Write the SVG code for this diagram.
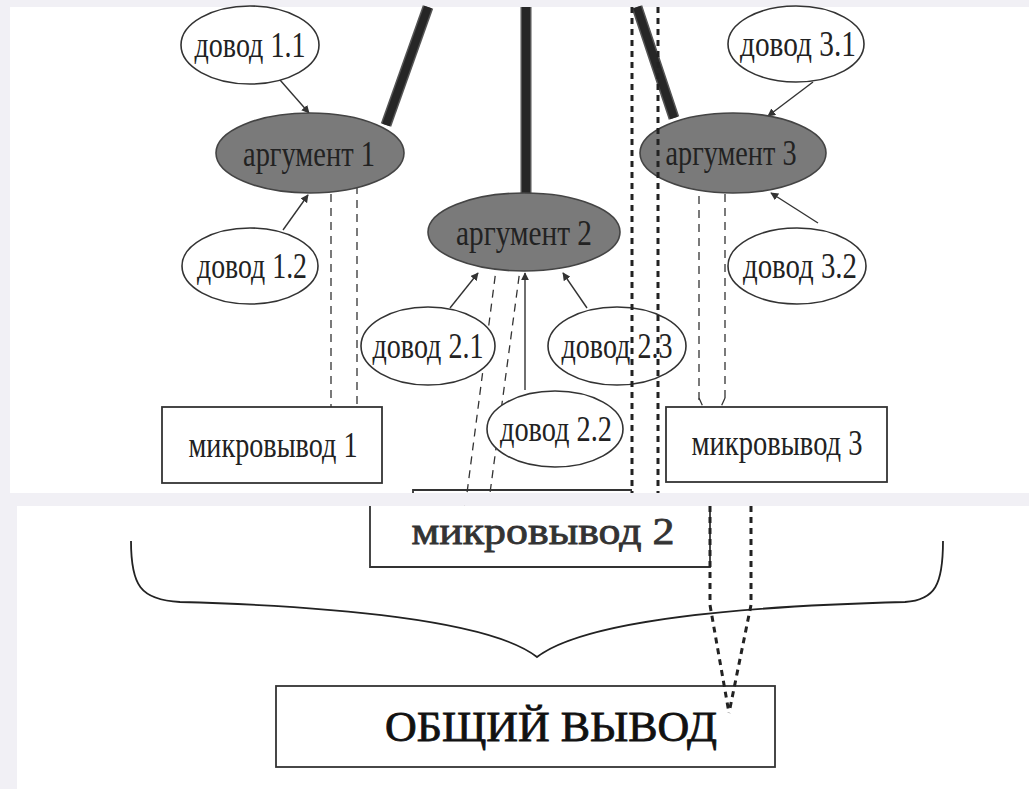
<svg xmlns="http://www.w3.org/2000/svg" width="1029" height="789" viewBox="0 0 1029 789">
<defs>
<style>
.t{font-family:"Liberation Serif","DejaVu Serif",serif;font-size:36px;fill:#222;text-anchor:middle}
.ew{fill:#fff;stroke:#333;stroke-width:1.6}
.eg{fill:#7a7a7a;stroke:#444;stroke-width:1.6}
.bx{fill:#fff;stroke:#333;stroke-width:1.8}
.ar{stroke:#333;stroke-width:1.4;fill:none;marker-end:url(#ah)}
.ds{stroke:#333;stroke-width:1.3;fill:none;stroke-dasharray:8 6}
.dt{stroke:#222;stroke-width:3;fill:none;stroke-dasharray:6 5}
.barO{stroke:#555;stroke-width:11;fill:none}
.barI{stroke:#262626;stroke-width:8;fill:none}
</style>
<marker id="ah" viewBox="0 0 10 10" refX="9" refY="5" markerWidth="8" markerHeight="8" markerUnits="userSpaceOnUse" orient="auto">
<path d="M0,0 L10,5 L0,10 Z" fill="#333"/>
</marker>
</defs>
<rect width="1029" height="789" fill="#f1f0f5"/>
<rect x="10" y="7" width="1019" height="486" fill="#fff"/>
<rect x="17" y="506" width="1012" height="283" fill="#fff"/>

<g id="bars">
<path class="barO" d="M428,7 L386,125"/><path class="barI" d="M428,7 L386,125"/>
<path class="barO" d="M526,7 L526,194"/><path class="barI" d="M526,7 L526,194"/>
<path class="barO" d="M637,7 L674,118"/><path class="barI" d="M637,7 L674,118"/>
</g>

<g id="connectors">
<path class="ar" d="M280,80 L309,113"/>
<path class="ar" d="M283,230 L308,195"/>
<path class="ar" d="M813,82 L768,116"/>
<path class="ar" d="M818,223 L771,193"/>
<path class="ar" d="M450,308 L478,273"/>
<path class="ar" d="M587,308 L563,273"/>
<path class="ar" d="M525,390 L525,273"/>
<path class="ds" d="M331,412 V179 H357 V412"/>
<path class="ds" d="M331,407 L343,421"/><path class="ds" d="M357,407 L347,421"/>
<path d="M342,420 L348,420 L345,426 Z" fill="#333"/>
<path class="ds" d="M699,400 V177 H725 V400"/>
<path class="ds" d="M699,398 L709,420"/><path class="ds" d="M725,398 L715,420"/>
<path d="M709,419 L715,419 L712,425 Z" fill="#333"/>
<path class="ds" d="M497,262 L467,493"/>
<path class="ds" d="M497,262 Q508,258 521,262"/>
<path class="ds" d="M521,262 L490,493"/>
<path class="ds" d="M464,506 L467,511"/>
<path d="M464,510 L471,510 L467.5,516 Z" fill="#333"/>
</g>

<g id="dovod11"><ellipse class="ew" cx="250" cy="45" rx="69" ry="39"/><text class="t" x="250" y="57" textLength="111" lengthAdjust="spacingAndGlyphs">довод 1.1</text></g>
<g id="argument1"><ellipse class="eg" cx="310" cy="153" rx="94" ry="40"/><text class="t" x="309" y="166" textLength="132" lengthAdjust="spacingAndGlyphs">аргумент 1</text></g>
<g id="dovod12"><ellipse class="ew" cx="250" cy="266" rx="68" ry="38"/><text class="t" x="252" y="278" textLength="110" lengthAdjust="spacingAndGlyphs">довод 1.2</text></g>
<g id="argument2"><ellipse class="eg" cx="524" cy="232" rx="96" ry="39"/><text class="t" x="524" y="245" textLength="136" lengthAdjust="spacingAndGlyphs">аргумент 2</text></g>
<g id="dovod21"><ellipse class="ew" cx="428" cy="346" rx="67" ry="39"/><text class="t" x="428" y="358" textLength="111" lengthAdjust="spacingAndGlyphs">довод 2.1</text></g>
<g id="dovod23"><ellipse class="ew" cx="617" cy="346" rx="69" ry="39"/><text class="t" x="617" y="358" textLength="111" lengthAdjust="spacingAndGlyphs">довод 2.3</text></g>
<g id="dovod22"><ellipse class="ew" cx="555" cy="429" rx="68" ry="38"/><text class="t" x="556" y="441" textLength="112" lengthAdjust="spacingAndGlyphs">довод 2.2</text></g>
<g id="argument3"><ellipse class="eg" cx="733" cy="153" rx="93" ry="40"/><text class="t" x="731" y="165" textLength="131" lengthAdjust="spacingAndGlyphs">аргумент 3</text></g>
<g id="dovod31"><ellipse class="ew" cx="796" cy="44" rx="68" ry="38"/><text class="t" x="798" y="56" textLength="116" lengthAdjust="spacingAndGlyphs">довод 3.1</text></g>
<g id="dovod32"><ellipse class="ew" cx="797" cy="266" rx="69" ry="38"/><text class="t" x="800" y="278" textLength="114" lengthAdjust="spacingAndGlyphs">довод 3.2</text></g>
<g id="mikro1"><rect class="bx" x="162" y="407" width="220" height="76"/><text class="t" x="273" y="457" textLength="169" lengthAdjust="spacingAndGlyphs">микровывод 1</text></g>
<g id="mikro3"><rect class="bx" x="666" y="407" width="221" height="75"/><text class="t" x="777" y="455" textLength="171" lengthAdjust="spacingAndGlyphs">микровывод 3</text></g>
<g id="mikro2top"><path d="M413,493 V490 H632" fill="none" stroke="#333" stroke-width="1.8"/></g>
<g id="mikro2"><path d="M370,506 V567 H710 V506" fill="#fff" stroke="#333" stroke-width="1.8"/><text class="t" x="543" y="544" style="font-size:38px;fill:#333;stroke:#333;stroke-width:0.8" textLength="263" lengthAdjust="spacingAndGlyphs">микровывод 2</text></g>
<g id="brace"><path d="M131,541 C131,585 140,600 180,602 C330,606 490,620 537,657 C585,620 745,606 905,602 C935,600 943,585 943,541" fill="none" stroke="#222" stroke-width="1.8"/></g>
<g id="obshiy"><rect class="bx" x="276" y="686" width="499" height="81"/><text class="t" x="551" y="741" style="font-size:42px;fill:#111;stroke:#111;stroke-width:0.8" textLength="332" lengthAdjust="spacingAndGlyphs">ОБЩИЙ ВЫВОД</text></g>

<g id="dotted">
<path class="dt" d="M632,7 V493"/>
<path class="dt" d="M658,7 V493"/>
<path class="dt" d="M710,506 V605 L729,713"/>
<path class="dt" d="M751,506 V605 L729,713"/>
</g>
</svg>
